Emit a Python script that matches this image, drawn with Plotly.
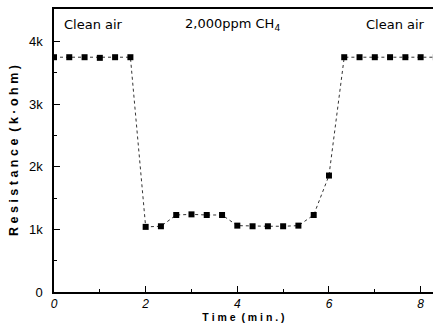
import plotly.graph_objects as go

# Data (time in min, resistance in k-ohm)
time_min = [0.0, 0.333, 0.667, 1.0, 1.333, 1.667, 2.0, 2.333, 2.667, 3.0, 3.333, 3.667,
            4.0, 4.333, 4.667, 5.0, 5.333, 5.667, 6.0, 6.333, 6.667, 7.0, 7.333, 7.667, 8.0, 8.333]
resistance_k = [3.75, 3.75, 3.75, 3.74, 3.75, 3.75, 1.04, 1.05, 1.23, 1.24, 1.23, 1.23,
                1.06, 1.05, 1.05, 1.05, 1.06, 1.23, 1.86, 3.75, 3.75, 3.75, 3.75, 3.75, 3.75, 3.75]
y_tickvals = [0, 1, 2, 3, 4]
y_ticktext = ["0", "1k", "2k", "3k", "4k"]
x_tickvals = [0, 2, 4, 6, 8]
x_ticktext = ["0", "2", "4", "6", "8"]

font_family = "Liberation Sans, Arial, sans-serif"
wide_font = "DejaVu Sans, Verdana, sans-serif"

fig = go.Figure()
fig.add_trace(go.Scatter(
    x=time_min, y=resistance_k, mode="lines+markers",
    line=dict(color="#333333", width=1, dash="dot"),
    marker=dict(symbol="square", size=6, color="black"),
    showlegend=False,
))

fig.update_layout(
    width=433, height=331,
    margin=dict(l=54, r=0, t=9, b=39),
    paper_bgcolor="white", plot_bgcolor="white",
    font=dict(family=font_family, color="black", size=12),
    xaxis=dict(
        range=[0, 8.27], showgrid=False, zeroline=False,
        showline=True, linecolor="black", linewidth=1.5, mirror=True,
        ticks="inside", ticklen=6, tickcolor="black",
        tickvals=x_tickvals, ticktext=x_ticktext,
        tickfont=dict(size=12, family=font_family, style="italic"),
        minor=dict(ticks="inside", ticklen=3, tickvals=[1, 3, 5, 7], tickcolor="black"),
        title=dict(text="<b>T i m e  ( m i n . )</b>", font=dict(size=10.5), standoff=0),
    ),
    yaxis=dict(
        range=[0, 4.52], showgrid=False, zeroline=False,
        showline=True, linecolor="black", linewidth=1.5,
        ticks="inside", ticklen=6, tickcolor="black",
        tickvals=y_tickvals, ticktext=y_ticktext,
        tickfont=dict(size=13),
        ticklabelstandoff=7,
        minor=dict(ticks="inside", ticklen=3, tickvals=[0.5, 1.5, 2.5, 3.5], tickcolor="black"),
        title=dict(text="<b>R e s i s t a n c e  ( k · o h m )</b>", font=dict(size=12.5), standoff=8),
    ),
    annotations=[
        dict(x=0.17, y=4.27, xref="x", yref="y", text="Clean air", showarrow=False,
             xanchor="left", font=dict(size=13, family=wide_font)),
        dict(x=2.81, y=4.27, xref="x", yref="y", text="2,000ppm CH<sub>4</sub>", showarrow=False,
             xanchor="left", font=dict(size=13, family=wide_font)),
        dict(x=8.14, y=4.27, xref="x", yref="y", text="Clean air", showarrow=False,
             xanchor="right", font=dict(size=13, family=wide_font)),
    ],
)

fig.write_html("out.html", config={"displayModeBar": False})
